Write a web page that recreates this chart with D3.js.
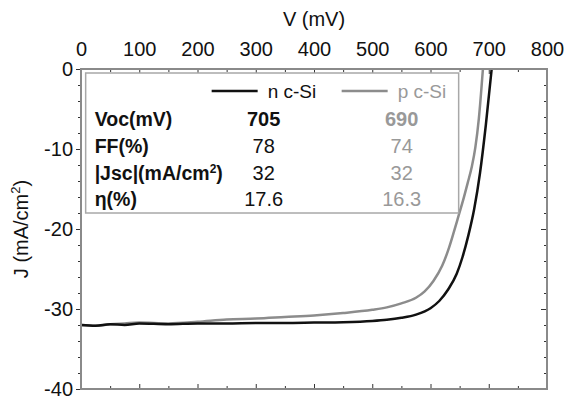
<!DOCTYPE html>
<html>
<head>
<meta charset="utf-8">
<script src="https://cdn.jsdelivr.net/npm/d3@7"></script>
<style>
  body { margin: 0; background: #fff; }
  svg { display: block; font-family: "Liberation Sans", Arial, sans-serif; }
</style>
</head>
<body>
<div id="chart"></div>
<script>
// n c-Si curve (V in mV, J in mA/cm2)
const nV = [0, 25, 50, 75, 100, 150, 200, 250, 300, 350, 400, 450, 500, 525, 550, 575, 600, 615, 630, 645, 655, 665, 675, 685, 695, 705];
const nJ = [-32.0, -32.1, -31.9, -32.0, -31.8, -31.9, -31.8, -31.8, -31.75, -31.75, -31.7, -31.65, -31.5, -31.35, -31.1, -30.7, -29.9, -29.0, -27.6, -25.6, -23.5, -20.8, -17.5, -13.0, -7.0, 0];

// p c-Si curve
const pV = [0, 25, 50, 75, 100, 150, 200, 250, 300, 350, 400, 450, 500, 525, 550, 575, 590, 605, 620, 632, 640, 648, 656, 664, 671, 677, 683, 690];
const pJ = [-32.0, -32.1, -31.9, -31.8, -31.7, -31.8, -31.6, -31.3, -31.2, -31.0, -30.8, -30.5, -30.1, -29.8, -29.3, -28.6, -27.8, -26.5, -24.6, -22.3, -20.4, -18.4, -16.4, -14.2, -12.2, -9.8, -6.2, 0];

const xTicks = [0, 100, 200, 300, 400, 500, 600, 700, 800];
const yTicks = [0, -10, -20, -30, -40];

// table in the legend box
const seriesNames = ["n c-Si", "p c-Si"];
const rowLabels = ["Voc(mV)", "FF(%)", "|Jsc|(mA/cm²)", "η(%)"];
const nValues = ["705", "78", "32", "17.6"];
const pValues = ["690", "74", "32", "16.3"];

const width = 568, height = 399;
const margin = { top: 69, right: 21, bottom: 10, left: 81 };
const w = width - margin.left - margin.right;
const h = height - margin.top - margin.bottom;

const axisColor = "#8a8a8a";
const nColor = "#111";
const pColor = "#8c8c8c";

const svg = d3.select("#chart").append("svg")
  .attr("width", width)
  .attr("height", height);

const g = svg.append("g")
  .attr("transform", `translate(${margin.left},${margin.top})`);

const x = d3.scaleLinear().domain([0, 800]).range([0, w]);
const y = d3.scaleLinear().domain([-40, 0]).range([h, 0]);

const xMinor = d3.range(50, 800, 100);
const yMinor = d3.range(-40, 0, 2).filter(v => v % 10 !== 0);

g.append("defs").append("clipPath").attr("id", "clip")
  .append("rect").attr("width", w).attr("height", h);

// curves
const line = d3.line()
  .x(d => x(d[0]))
  .y(d => y(d[1]))
  .curve(d3.curveMonotoneX);

g.append("path")
  .datum(pV.map((v, i) => [v, pJ[i]]))
  .attr("clip-path", "url(#clip)")
  .attr("fill", "none")
  .attr("stroke", pColor)
  .attr("stroke-width", 2.5)
  .attr("d", line);

g.append("path")
  .datum(nV.map((v, i) => [v, nJ[i]]))
  .attr("clip-path", "url(#clip)")
  .attr("fill", "none")
  .attr("stroke", nColor)
  .attr("stroke-width", 2.5)
  .attr("d", line);

// axes
function styleAxis(sel) {
  sel.select(".domain").remove();
  sel.selectAll("line").attr("stroke", "#333").attr("stroke-width", 1);
  sel.selectAll("text").attr("fill", "#111").style("font-size", "20px");
}

const plain = d => String(d);

g.append("g")
  .call(d3.axisTop(x).tickValues(xTicks).tickSize(-5).tickPadding(13).tickFormat(plain))
  .call(styleAxis);
g.append("g")
  .call(d3.axisTop(x).tickValues(xMinor).tickSize(-3).tickFormat(""))
  .call(styleAxis);

g.append("g").attr("transform", `translate(0,${h})`)
  .call(d3.axisBottom(x).tickValues(xTicks).tickSize(-5).tickFormat(""))
  .call(styleAxis);
g.append("g").attr("transform", `translate(0,${h})`)
  .call(d3.axisBottom(x).tickValues(xMinor).tickSize(-3).tickFormat(""))
  .call(styleAxis);

g.append("g")
  .call(d3.axisLeft(y).tickValues(yTicks).tickSize(5).tickPadding(3).tickFormat(plain))
  .call(styleAxis);
g.append("g")
  .call(d3.axisLeft(y).tickValues(yMinor).tickSize(3).tickFormat(""))
  .call(styleAxis);

g.append("g").attr("transform", `translate(${w},0)`)
  .call(d3.axisRight(y).tickValues(yTicks).tickSize(-6).tickFormat(""))
  .call(styleAxis);
g.append("g").attr("transform", `translate(${w},0)`)
  .call(d3.axisRight(y).tickValues(yMinor).tickSize(-3).tickFormat(""))
  .call(styleAxis);

// frame
g.append("rect")
  .attr("width", w).attr("height", h)
  .attr("fill", "none")
  .attr("stroke", axisColor)
  .attr("stroke-width", 2);

// axis titles
svg.append("text")
  .attr("x", margin.left + w / 2)
  .attr("y", 26)
  .attr("text-anchor", "middle")
  .attr("fill", "#111")
  .style("font-size", "20px")
  .text("V (mV)");

const yTitle = svg.append("text")
  .attr("transform", `translate(28,${margin.top + h / 2}) rotate(-90)`)
  .attr("text-anchor", "middle")
  .attr("fill", "#111")
  .style("font-size", "20px");
yTitle.append("tspan").text("J (mA/cm");
yTitle.append("tspan").attr("dy", -8).style("font-size", "13px").text("2");
yTitle.append("tspan").attr("dy", 8).text(")");

// legend box
const box = g.append("g").attr("transform", `translate(${x(8)},${y(-0.5)})`);
box.append("rect")
  .attr("width", 373).attr("height", 140)
  .attr("fill", "#fff")
  .attr("stroke", "#a8a8a8")
  .attr("stroke-width", 1.5);

const legColors = [nColor, pColor];
const legX = [126, 256];
seriesNames.forEach((s, i) => {
  box.append("line")
    .attr("x1", legX[i]).attr("x2", legX[i] + 46)
    .attr("y1", 18).attr("y2", 18)
    .attr("stroke", legColors[i]).attr("stroke-width", 2.5);
  box.append("text")
    .attr("x", legX[i] + 56).attr("y", 25)
    .attr("fill", i === 0 ? "#111" : "#999")
    .style("font-size", "19px")
    .text(s);
});

const rowY = [53, 80, 107, 133];
rowLabels.forEach((r, i) => {
  const t = box.append("text")
    .attr("x", 9).attr("y", rowY[i])
    .attr("fill", "#111")
    .style("font-size", "19.5px")
    .style("font-weight", "bold");
  if (r.includes("²")) {
    t.append("tspan").text("|Jsc|(mA/cm");
    t.append("tspan").attr("dy", -7).style("font-size", "12px").text("2");
    t.append("tspan").attr("dy", 7).text(")");
  } else {
    t.text(r);
  }
  box.append("text")
    .attr("x", 178).attr("y", rowY[i])
    .attr("text-anchor", "middle")
    .attr("fill", "#111")
    .style("font-size", "20px")
    .style("font-weight", i === 0 ? "bold" : "normal")
    .text(nValues[i]);
  box.append("text")
    .attr("x", 316).attr("y", rowY[i])
    .attr("text-anchor", "middle")
    .attr("fill", "#999")
    .style("font-size", "20px")
    .style("font-weight", i === 0 ? "bold" : "normal")
    .text(pValues[i]);
});
</script>
</body>
</html>
